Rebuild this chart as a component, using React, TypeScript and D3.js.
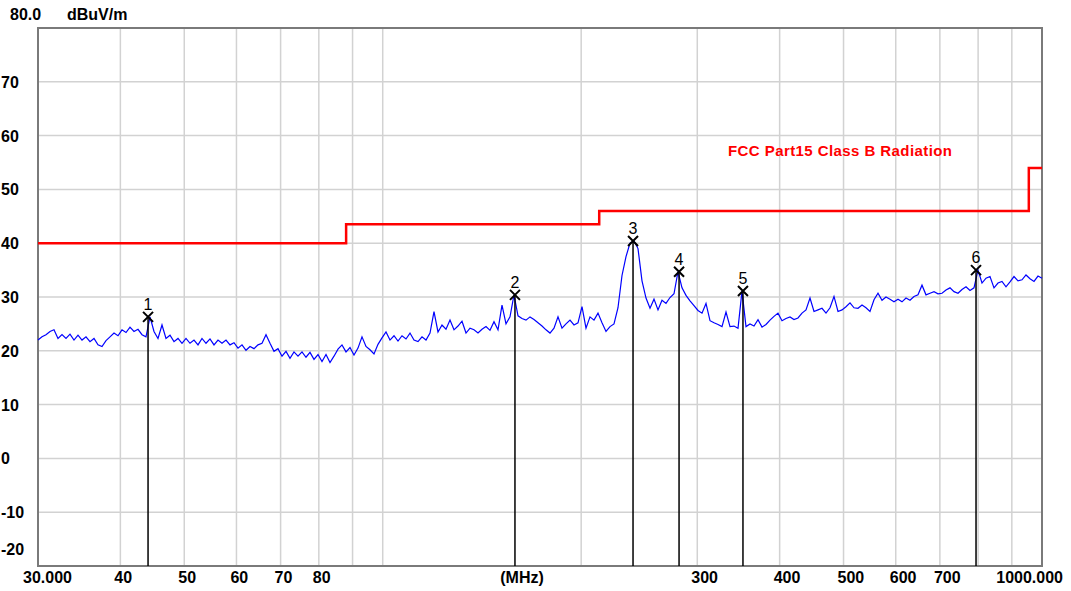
import React from "react";
import * as d3 from "d3";

// measured trace (dBuV/m), log-spaced sweep points from 30 to 1000 MHz
const sweepStart = 30;
const sweepStop = 1000;
const traceLevels = [
  22.0, 22.6, 23.0, 23.6, 23.9, 22.3, 23.0, 22.3, 23.1, 22.0,
  22.9, 22.0, 22.6, 21.7, 22.3, 21.1, 20.8, 21.9, 22.6, 23.3,
  22.8, 23.9, 23.4, 24.4, 23.6, 24.0, 23.0, 22.6, 26.3, 23.6,
  22.3, 24.8, 22.3, 22.9, 21.7, 22.3, 21.4, 22.3, 21.4, 22.0,
  21.1, 22.3, 21.4, 22.2, 21.1, 22.0, 21.4, 22.0, 21.1, 21.5,
  20.5, 21.1, 20.1, 20.8, 20.4, 21.1, 21.4, 23.0, 21.4, 19.9,
  20.4, 19.0, 19.9, 18.6, 19.8, 19.0, 19.8, 18.8, 19.7, 18.4,
  19.3, 18.0, 19.3, 17.8, 19.0, 20.3, 21.1, 19.8, 20.6, 19.2,
  20.5, 22.6, 20.8, 20.2, 19.4, 21.2, 22.4, 23.5, 22.0, 22.8,
  21.8, 22.8, 22.2, 23.3, 22.0, 21.7, 22.6, 22.0, 23.3, 27.3,
  23.5, 24.8, 24.0, 25.7, 23.9, 24.6, 25.5, 23.3, 24.2, 23.9,
  23.3, 24.0, 24.5, 23.8, 25.4, 23.9, 28.5, 25.0, 26.3, 30.4,
  26.5, 26.0, 25.7, 26.3, 25.8, 25.2, 24.6, 23.9, 23.3, 24.2,
  26.3, 24.2, 25.0, 25.7, 24.8, 25.2, 28.2, 24.2, 26.3, 25.7,
  27.0, 25.2, 23.6, 24.5, 25.0, 28.0, 34.0, 37.5, 40.0, 40.4,
  39.0, 33.0, 29.8, 27.9, 29.6, 27.6, 29.4, 28.8, 29.9, 30.6,
  34.7, 31.7, 30.3, 29.3, 28.4, 27.5, 27.0, 28.8, 25.6, 25.2,
  24.9, 24.5, 27.2, 24.5, 24.6, 24.2, 31.1, 24.5, 25.0, 24.6,
  25.8, 24.4, 24.9, 25.7, 26.4, 27.0, 25.6, 26.0, 26.3, 25.8,
  26.1, 27.0, 27.6, 29.8, 27.3, 27.6, 27.9, 27.0, 28.0, 30.1,
  27.3, 27.6, 28.2, 28.9, 28.0, 27.9, 28.5, 28.0, 27.3, 29.5,
  30.7, 29.4, 30.0, 29.6, 29.1, 29.6, 29.1, 29.8, 29.4, 30.1,
  30.4, 32.2, 30.4, 30.7, 31.0, 30.6, 30.7, 31.3, 31.7, 31.0,
  30.7, 31.4, 31.9, 31.2, 31.7, 35.0, 32.6, 33.5, 33.8, 31.7,
  32.6, 32.9, 31.9, 32.8, 33.8, 33.0, 33.2, 34.1, 33.4, 32.9,
  33.9, 33.5,
];

// FCC Part15 Class B limit (step after)
const limitFreq = [30, 88, 213, 955, 1000];
const limitLevel = [40, 43.5, 46, 54, 54];

// peak markers
const markerLabel = ["1", "2", "3", "4", "5", "6"];
const markerFreq = [44.06, 158.7, 239.7, 281.5, 351.9, 794.2];
const markerLevel = [26.3, 30.4, 40.4, 34.7, 31.1, 35.0];

// axes
const xGridFreq = [40, 50, 60, 70, 80, 90, 100, 200, 300, 400, 500, 600, 700, 800, 900];
const xLabelFreq = [30, 40, 50, 60, 70, 80, 300, 400, 500, 600, 700, 1000];
const xLabelText = ["30.000", "40", "50", "60", "70", "80", "300", "400", "500", "600", "700", "1000.000"];
const yGridLevel = [70, 60, 50, 40, 30, 20, 10, 0, -10];
const yLabelLevel = [70, 60, 50, 40, 30, 20, 10, 0, -10, -20];

const width = 1071;
const height = 591;
const left = 38;
const right = 1042;
const top = 28;
const bottom = 566;
const font = "'Liberation Sans', Arial, sans-serif";

const App: React.FC = () => {
  const x = d3.scaleLog().domain([30, 1000]).range([left, right]);
  const y = d3.scaleLinear().domain([-20, 80]).range([bottom, top]);

  const traceFreq = traceLevels.map(
    (_, i) => sweepStart * Math.pow(sweepStop / sweepStart, i / (traceLevels.length - 1))
  );

  const traceLine = d3
    .line<number>()
    .x((_, i) => x(traceFreq[i]))
    .y((d) => y(d));

  const limitLine = d3
    .line<number>()
    .x((_, i) => x(limitFreq[i]))
    .y((d) => y(d))
    .curve(d3.curveStepAfter);

  return (
    <svg
      width={width}
      height={height}
      style={{ position: "absolute", left: 0, top: 0, background: "#fff" }}
      fontFamily={font}
    >
      {/* grid */}
      {xGridFreq.map((f) => (
        <line key={"gx" + f} x1={x(f)} x2={x(f)} y1={top} y2={bottom} stroke="#d2d2d2" strokeWidth={1.5} />
      ))}
      {yGridLevel.map((v) => (
        <line key={"gy" + v} x1={left} x2={right} y1={y(v)} y2={y(v)} stroke="#d2d2d2" strokeWidth={1.5} />
      ))}
      <rect x={left} y={top} width={right - left} height={bottom - top} fill="none" stroke="#7a7a7a" strokeWidth={2} />

      {/* y labels */}
      <text x={10} y={20} fontSize={16} fontWeight="bold">80.0</text>
      <text x={67} y={20} fontSize={16} fontWeight="bold">dBuV/m</text>
      {yLabelLevel.map((v) => (
        <text key={"yl" + v} x={1} y={Math.min(y(v) + 6, 555)} fontSize={16} fontWeight="bold">
          {v}
        </text>
      ))}

      {/* x labels */}
      {xLabelFreq.map((f, i) => {
        const last = i === xLabelFreq.length - 1;
        const px = i === 0 ? x(f) - 15 : last ? x(f) + 21 : x(f) - 6;
        return (
          <text
            key={"xl" + f}
            x={px}
            y={583}
            fontSize={16}
            fontWeight="bold"
            textAnchor={last ? "end" : "start"}
          >
            {xLabelText[i]}
          </text>
        );
      })}
      <text x={522} y={583} fontSize={16} fontWeight="bold" textAnchor="middle">(MHz)</text>

      {/* limit */}
      <path d={limitLine(limitLevel) || ""} fill="none" stroke="#ff0000" strokeWidth={2.5} />
      <text x={728} y={156} fontSize={15} fontWeight="bold" fill="#ff0000" textLength={224}>
        FCC Part15 Class B Radiation
      </text>

      {/* trace */}
      <path d={traceLine(traceLevels) || ""} fill="none" stroke="#0000ff" strokeWidth={1.2} />

      {/* markers */}
      {markerFreq.map((f, i) => {
        const mx = x(f);
        const my = y(markerLevel[i]);
        return (
          <g key={"m" + i}>
            <line x1={mx} x2={mx} y1={my} y2={bottom} stroke="#000" strokeWidth={1.5} />
            <path
              d={`M${mx - 5},${my - 5}L${mx + 5},${my + 5}M${mx - 5},${my + 5}L${mx + 5},${my - 5}`}
              stroke="#000"
              strokeWidth={2}
            />
            <text x={mx} y={my - 7} fontSize={16} textAnchor="middle">
              {markerLabel[i]}
            </text>
          </g>
        );
      })}
    </svg>
  );
};

export default App;
